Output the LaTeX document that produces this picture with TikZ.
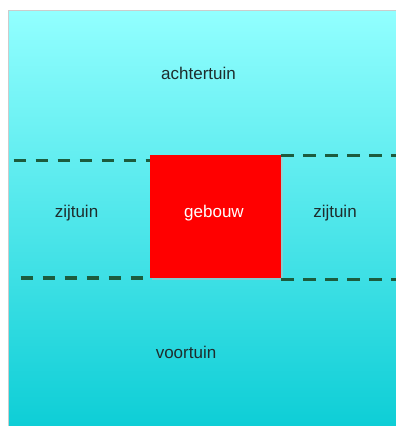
\documentclass[tikz,border=0pt]{standalone}
\usepackage{fontspec}
\setmainfont{Liberation Sans}
\definecolor{skytop}{RGB}{146,255,255}
\definecolor{skybot}{RGB}{14,206,214}
\definecolor{dashgreen}{RGB}{28,92,62}
\definecolor{labeltext}{RGB}{30,45,45}
\tikzset{
  zone/.style={font=\fontsize{17}{20}\selectfont, text=labeltext, inner sep=0pt},
  boundary/.style={draw=dashgreen, line width=3.5pt, dash pattern=on 12.5pt off 9.5pt},
  building/.style={fill=red, draw=none}
}
\begin{document}
\begin{tikzpicture}[x=1pt,y=-1pt]
\useasboundingbox (0,0) rectangle (396,426);
\fill[white] (0,0) rectangle (396,426);
\shade[top color=skytop, bottom color=skybot] (8,10) rectangle (396,426);
\draw[gray!40, line width=0.6pt] (8,426) -- (8,10) -- (396,10);
% shadow of building
\fill[black!25, opacity=0.5] (151.5,156.5) rectangle (283,280);
\node[building, minimum width=131pt, minimum height=123pt, anchor=north west] (bld) at (150,155) {};
\node[zone, text=white] (geb) at (214,213) {gebouw};
\node[zone] (acht) at (198.5,73) {achtertuin};
\node[zone] (zl) at (76.5,213) {zijtuin};
\node[zone] (zr) at (335,213) {zijtuin};
\node[zone] (voor) at (186,352) {voortuin};
\coordinate (tl) at (13.5,160.5);
\coordinate (tr) at (396,155.5);
\coordinate (bl) at (20.5,278);
\coordinate (br) at (396,279.5);
\draw[boundary] (tl) -- (tl -| bld.west);
\draw[boundary] (bld.north east |- tr) -- (tr);
\draw[boundary] (bl) -- (bl -| bld.west);
\draw[boundary] (bld.south east |- br) -- (br);
\end{tikzpicture}
\end{document}
